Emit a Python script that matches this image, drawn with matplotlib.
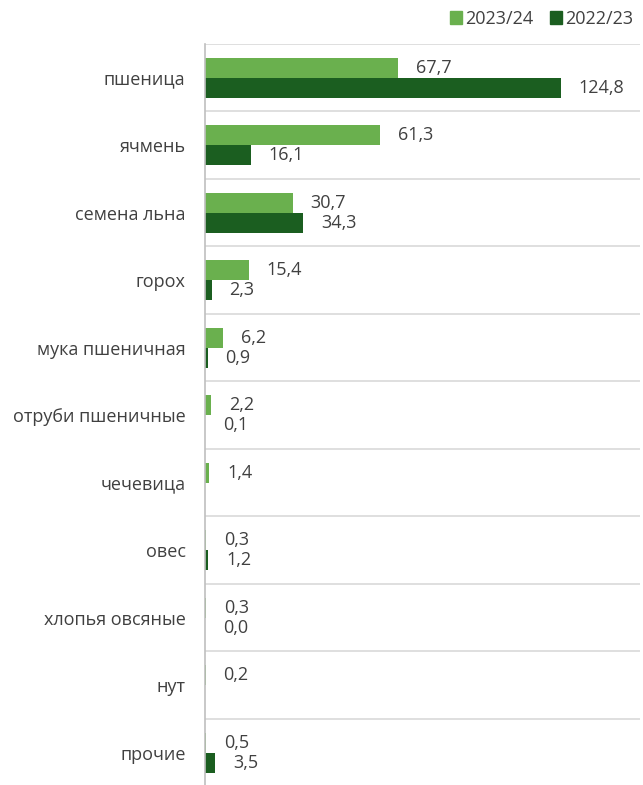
import numpy as np
import matplotlib
matplotlib.use("Agg")
from matplotlib import pyplot as plt
from matplotlib.patches import Patch

plt.rcParams['font.family'] = ['Open Sans', 'DejaVu Sans']

categories = ["пшеница", "ячмень", "семена льна", "горох", "мука пшеничная",
              "отруби пшеничные", "чечевица", "овес", "хлопья овсяные", "нут", "прочие"]
val_2324 = [67.7, 61.3, 30.7, 15.4, 6.2, 2.2, 1.4, 0.3, 0.3, 0.2, 0.5]
val_2223 = [124.8, 16.1, 34.3, 2.3, 0.9, 0.1, np.nan, 1.2, 0.0, np.nan, 3.5]
series_names = ["2023/24", "2022/23"]

c_light = "#6AB04E"
c_dark = "#1B5E20"
txt = "#404040"
fs = 13

fig = plt.figure(figsize=(6.43, 7.85), dpi=100)
ax = fig.add_axes([205/643, 0.0, 435/643, 741/785])

y = np.arange(len(categories))
h = 0.296
ax.barh(y - h/2, val_2324, height=h, color=c_light)
ax.barh(y + h/2, np.nan_to_num(val_2223), height=h, color=c_dark)

for i in range(len(categories)):
    for v, yy in ((val_2324[i], y[i] - h/2), (val_2223[i], y[i] + h/2)):
        if np.isnan(v):
            continue
        ax.annotate(f"{v:.1f}".replace(".", ","), (v, yy), xytext=(18, 0),
                    textcoords="offset pixels", ha="left", va="center",
                    fontsize=fs, color=txt)

for b in np.arange(-0.5, len(categories) - 1, 1.0):
    ax.axhline(b, color="#d9d9d9", lw=1.2, zorder=0)

ax.set_xlim(0, 152.6)
ax.set_ylim(10.48, -0.5)
ax.set_yticks(y)
ax.set_yticklabels(categories, fontsize=fs, color=txt)
ax.tick_params(axis="y", length=0, pad=14)
ax.set_xticks([])
for s in ("top", "right", "bottom"):
    ax.spines[s].set_visible(False)
ax.spines["left"].set_color("#bfbfbf")
ax.spines["left"].set_linewidth(1.2)

handles = [Patch(color=c_light), Patch(color=c_dark)]
fig.legend(handles, series_names, loc="upper right", bbox_to_anchor=(1.01, 1.008),
           ncol=2, frameon=False, fontsize=fs, handlelength=0.7, handleheight=0.7,
           handletextpad=0.15, columnspacing=0.9, labelcolor=txt)

fig.savefig("out.png", dpi=100)
